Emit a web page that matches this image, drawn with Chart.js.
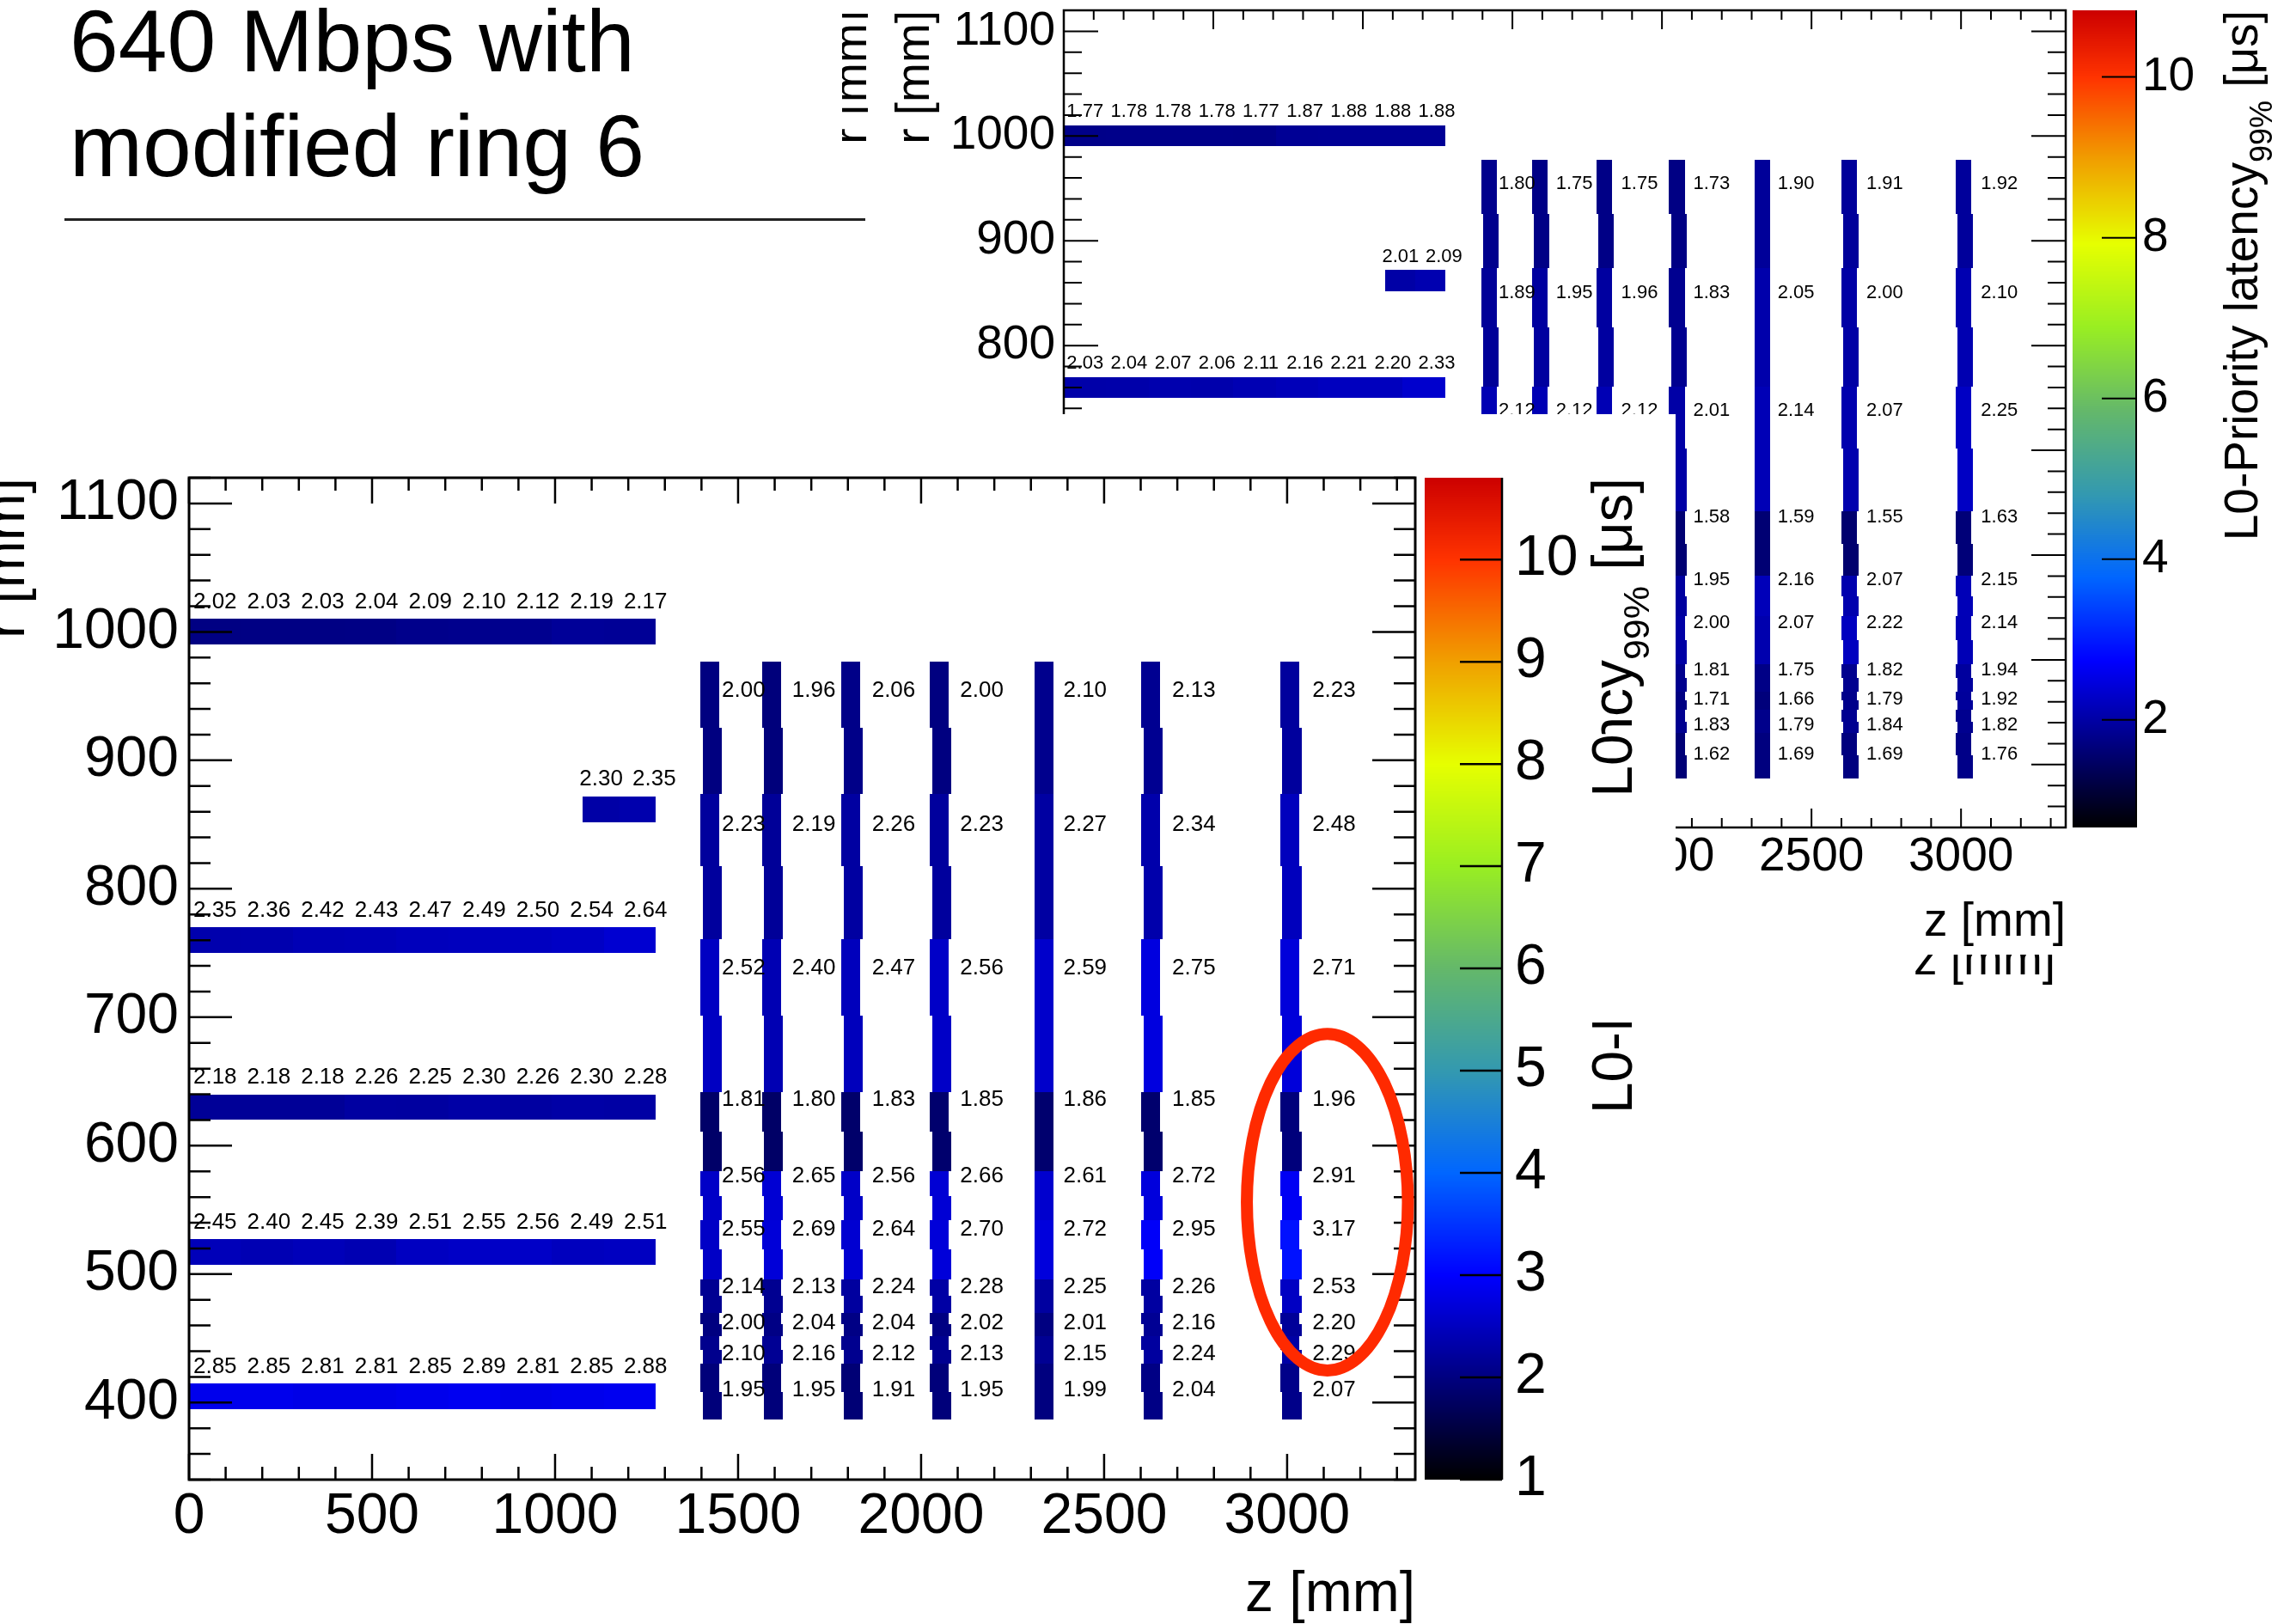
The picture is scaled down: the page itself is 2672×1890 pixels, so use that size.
<!DOCTYPE html>
<html>
<head>
<meta charset="utf-8">
<script src="https://cdn.jsdelivr.net/npm/chart.js@4.4.1/dist/chart.umd.min.js"></script>
<style>
    html, body { margin: 0; padding: 0; background: #fff; }
    body { width: 2672px; height: 1890px; position: relative; overflow: hidden; font-family: "Liberation Sans", Arial, sans-serif; }
    #title { position: absolute; left: 81px; top: -13px; font-size: 102px; line-height: 122px; color: #000; white-space: nowrap; }
    #rule { position: absolute; left: 75px; top: 254px; width: 932px; height: 3px; background: #222; }
    #upper { position: absolute; left: 940px; top: 0; z-index: 1; }
    #main { position: absolute; left: 0; top: 482px; z-index: 2; background: #fff; }
</style>
</head>
<body>
<div id="title">640 Mbps with<br>modified ring 6</div>
<div id="rule"></div>
<canvas id="upper" width="1732" height="1150"></canvas>
<canvas id="main" width="1950" height="1408"></canvas>
<script>
// 几何布局 (mm)，两张图共用
const barrelZEdges = [0, 141.7, 283.3, 425, 566.7, 708.3, 850, 991.7, 1133.3, 1275];
const barrelLabelZ = [71, 218, 365, 512, 659, 806, 953, 1100, 1247];
const barrelR = [1000, 760, 630, 517, 405];
const shortZEdges = [1075, 1175, 1275];
const shortLabelZ = [1126, 1271];
const shortR = 862;
const diskZ = [1426, 1594, 1811, 2053, 2336, 2630, 3010];
const diskLabelZ = [1515, 1707, 1925, 2166, 2448, 2745, 3128];
const diskStagger = [1, 1, 1, 1, 0, 1, 1];
const ringTopR = [977, 874, 761, 642, 580, 542, 496, 470, 452, 430];
const ringBottomR = 387;
const ringLabelR = [954, 850, 738, 636, 576, 535, 490, 462, 438, 410];

// 坐标轴
const zRange = [0, 3350];
const rRange = [340, 1120];
const zTicks = [0, 500, 1000, 1500, 2000, 2500, 3000];
const rTicks = [400, 500, 600, 700, 800, 900, 1000, 1100];
const zMinorStep = 100, rMinorStep = 20;

// 主图 (下方) 数值
const mainBarrel = [
    [2.02, 2.03, 2.03, 2.04, 2.09, 2.10, 2.12, 2.19, 2.17],
    [2.35, 2.36, 2.42, 2.43, 2.47, 2.49, 2.50, 2.54, 2.64],
    [2.18, 2.18, 2.18, 2.26, 2.25, 2.30, 2.26, 2.30, 2.28],
    [2.45, 2.40, 2.45, 2.39, 2.51, 2.55, 2.56, 2.49, 2.51],
    [2.85, 2.85, 2.81, 2.81, 2.85, 2.89, 2.81, 2.85, 2.88]
];
const mainShort = [2.30, 2.35];
const mainRings = [
    [2.00, 1.96, 2.06, 2.00, 2.10, 2.13, 2.23],
    [2.23, 2.19, 2.26, 2.23, 2.27, 2.34, 2.48],
    [2.52, 2.40, 2.47, 2.56, 2.59, 2.75, 2.71],
    [1.81, 1.80, 1.83, 1.85, 1.86, 1.85, 1.96],
    [2.56, 2.65, 2.56, 2.66, 2.61, 2.72, 2.91],
    [2.55, 2.69, 2.64, 2.70, 2.72, 2.95, 3.17],
    [2.14, 2.13, 2.24, 2.28, 2.25, 2.26, 2.53],
    [2.00, 2.04, 2.04, 2.02, 2.01, 2.16, 2.20],
    [2.10, 2.16, 2.12, 2.13, 2.15, 2.24, 2.29],
    [1.95, 1.95, 1.91, 1.95, 1.99, 2.04, 2.07]
];
const mainZRange = [1, 10.8];
const mainZTicks = [1, 2, 3, 4, 5, 6, 7, 8, 9, 10];

// 上方旧图 (被遮住的格子为 null)
const upperBarrel = [
    [1.77, 1.78, 1.78, 1.78, 1.77, 1.87, 1.88, 1.88, 1.88],
    [2.03, 2.04, 2.07, 2.06, 2.11, 2.16, 2.21, 2.20, 2.33],
    null, null, null
];
const upperShort = [2.01, 2.09];
const upperRings = [
    [1.80, 1.75, 1.75, 1.73, 1.90, 1.91, 1.92],
    [1.89, 1.95, 1.96, 1.83, 2.05, 2.00, 2.10],
    [2.12, 2.12, 2.12, 2.01, 2.14, 2.07, 2.25],
    [null, null, null, 1.58, 1.59, 1.55, 1.63],
    [null, null, null, 1.95, 2.16, 2.07, 2.15],
    [null, null, null, 2.00, 2.07, 2.22, 2.14],
    [null, null, null, 1.81, 1.75, 1.82, 1.94],
    [null, null, null, 1.71, 1.66, 1.79, 1.92],
    [null, null, null, 1.83, 1.79, 1.84, 1.82],
    [null, null, null, 1.62, 1.69, 1.69, 1.76]
];
const upperZRange = [0.66, 10.83];
const upperZTicks = [2, 4, 6, 8, 10];

// 色板 (按区间比例)
const paletteStops = [0, 0.102, 0.204, 0.306, 0.408, 0.51, 0.612, 0.714, 0.816, 0.918, 1];
const paletteColors = ['#000000', '#000080', '#0000ff', '#0066ff', '#3399b0', '#64b86a', '#99ee22', '#e6ff00', '#f0a000', '#ff3300', '#cc0000'];

const FONT = '"Liberation Sans", Arial, Helvetica, sans-serif';
const halfStave = 10, diskHalfW = 26, staggerOff = 3, staveLabelGap = 13;

function hexRgb(h) {
    return [parseInt(h.slice(1, 3), 16), parseInt(h.slice(3, 5), 16), parseInt(h.slice(5, 7), 16)];
}

function paletteColor(v, zr) {
    const f = Math.min(1, Math.max(0, (v - zr[0]) / (zr[1] - zr[0])));
    for (let i = 1; i < paletteStops.length; i++) {
        if (f <= paletteStops[i]) {
            const t = (f - paletteStops[i - 1]) / (paletteStops[i] - paletteStops[i - 1]);
            const a = hexRgb(paletteColors[i - 1]), b = hexRgb(paletteColors[i]);
            return 'rgb(' + a.map((c, k) => Math.round(c + (b[k] - c) * t)).join(',') + ')';
        }
    }
    return paletteColors[paletteColors.length - 1];
}

// 旋转文字 (自下而上)，末端对齐 yEnd
function rotText(ctx, parts, xb, yEnd, size, clipFn) {
    ctx.save();
    ctx.translate(xb, yEnd);
    ctx.rotate(-Math.PI / 2);
    const widths = parts.map(p => { ctx.font = Math.round(size * (p.s || 1)) + 'px ' + FONT; return ctx.measureText(p.t).width; });
    const W = widths.reduce((a, b) => a + b, 0);
    if (clipFn) clipFn(ctx, W, size);
    let x = -W;
    ctx.textAlign = 'left';
    ctx.textBaseline = 'alphabetic';
    ctx.fillStyle = '#000';
    parts.forEach((p, i) => {
        ctx.font = Math.round(size * (p.s || 1)) + 'px ' + FONT;
        ctx.fillText(p.t, x, (p.dy || 0) * size);
        x += widths[i];
    });
    ctx.restore();
}

function mapPlugin(cfg) {
    return {
        id: 'map_' + cfg.name,
        afterDraw(chart) {
            const ctx = chart.ctx, xs = chart.scales.x, ys = chart.scales.y, cb = chart.scales.cb;
            const a = chart.chartArea;
            const X = v => xs.getPixelForValue(v), Y = v => ys.getPixelForValue(v);
            const cell = (z0, z1, r0, r1, v) => {
                const xa = Math.round(X(z0)), xb = Math.round(X(z1));
                const ya = Math.round(Y(r1)), yb = Math.round(Y(r0));
                ctx.fillStyle = paletteColor(v, cfg.zr);
                ctx.fillRect(xa, ya, xb - xa, yb - ya);
            };
            const label = (z, r, v) => {
                ctx.fillStyle = '#000';
                ctx.font = cfg.valSize + 'px ' + FONT;
                ctx.textAlign = 'center';
                ctx.textBaseline = 'middle';
                ctx.fillText(v.toFixed(2), X(z), Y(r));
            };
            ctx.save();

            // 桶部
            cfg.barrel.forEach((row, i) => {
                if (!row) return;
                row.forEach((v, j) => { if (v != null) cell(barrelZEdges[j], barrelZEdges[j + 1], barrelR[i] - halfStave, barrelR[i] + halfStave, v); });
            });
            cfg.short.forEach((v, j) => cell(shortZEdges[j], shortZEdges[j + 1], shortR - halfStave, shortR + halfStave, v));

            // 端盖环
            cfg.rings.forEach((row, k) => {
                const top = ringTopR[k];
                const bot = k + 1 < ringTopR.length ? ringTopR[k + 1] : ringBottomR;
                const mid = (top + bot) / 2;
                row.forEach((v, d) => {
                    if (v == null) return;
                    const off = diskStagger[d] * staggerOff;
                    cell(diskZ[d] - diskHalfW - off, diskZ[d] + diskHalfW - off, mid, top, v);
                    cell(diskZ[d] - diskHalfW + off, diskZ[d] + diskHalfW + off, bot, mid, v);
                });
            });

            // 数值标签
            cfg.barrel.forEach((row, i) => {
                if (!row) return;
                row.forEach((v, j) => { if (v != null) label(barrelLabelZ[j], barrelR[i] + halfStave + staveLabelGap, v); });
            });
            cfg.short.forEach((v, j) => label(shortLabelZ[j], shortR + halfStave + staveLabelGap, v));
            cfg.rings.forEach((row, k) => row.forEach((v, d) => { if (v != null) label(diskLabelZ[d], ringLabelR[k], v); }));

            // 边框和刻度
            ctx.strokeStyle = '#000';
            ctx.lineWidth = cfg.frameW;
            ctx.strokeRect(a.left, a.top, a.right - a.left, a.bottom - a.top);
            ctx.lineWidth = cfg.tickW;
            ctx.beginPath();
            for (let z = zRange[0]; z <= zRange[1] + 1e-6; z += zMinorStep) {
                const L = zTicks.includes(z) ? cfg.xMajor : cfg.xMinor;
                const px = X(z);
                ctx.moveTo(px, a.bottom); ctx.lineTo(px, a.bottom - L);
                ctx.moveTo(px, a.top); ctx.lineTo(px, a.top + L);
            }
            for (let r = rRange[0]; r <= rRange[1] + 1e-6; r += rMinorStep) {
                const L = rTicks.includes(r) ? cfg.yMajor : cfg.yMinor;
                const py = Y(r);
                ctx.moveTo(a.left, py); ctx.lineTo(a.left + L, py);
                ctx.moveTo(a.right, py); ctx.lineTo(a.right - L, py);
            }
            ctx.stroke();

            // 色标
            const x0 = a.right + cfg.cbGap, x1 = x0 + cfg.cbW;
            for (let py = Math.floor(cb.top); py < cb.bottom; py++) {
                ctx.fillStyle = paletteColor(cb.getValueForPixel(py + 0.5), cfg.zr);
                ctx.fillRect(x0, py, x1 - x0, 1);
            }
            ctx.beginPath();
            cb.ticks.forEach(t => { const py = cb.getPixelForValue(t.value); ctx.moveTo(x1, py); ctx.lineTo(x1 - cfg.cbTick, py); });
            ctx.moveTo(x1, cb.top); ctx.lineTo(x1, cb.bottom);
            ctx.stroke();

            // 轴标题
            ctx.fillStyle = '#000';
            ctx.font = cfg.titleSize + 'px ' + FONT;
            ctx.textAlign = 'right';
            ctx.textBaseline = 'alphabetic';
            ctx.fillText('z [mm]', a.right, a.bottom + cfg.xTitleOff);
            rotText(ctx, [{ t: 'r [mm]' }], a.left - cfg.yTitleOff, a.top, cfg.titleSize);
            if (cfg.extras) cfg.extras(ctx, a, cfg);

            // 标注椭圆
            if (cfg.mark) {
                const m = cfg.mark;
                ctx.strokeStyle = '#ff2a00';
                ctx.lineWidth = 14;
                ctx.beginPath();
                ctx.ellipse(X(m.z), Y(m.r), X(m.z + m.dz) - X(m.z), Y(m.r) - Y(m.r + m.dr), 0, 0, Math.PI * 2);
                ctx.stroke();
            }
            ctx.restore();
        }
    };
}

const cbTitleParts = [{ t: 'L0-Priority latency' }, { t: '99%', s: 0.65, dy: 0.3 }, { t: ' [\u03bcs]' }];

// 固定刻度，并去掉自动留白
function fixTicks(values) {
    return s => { s.ticks = values.map(v => ({ value: v })); };
}
function fitTo(prop, size) {
    return s => {
        s[prop] = size;
        s.paddingTop = 0; s.paddingBottom = 0; s.paddingLeft = 0; s.paddingRight = 0;
    };
}

function makeMap(canvasId, cfg) {
    const tickFont = { family: FONT, size: cfg.tickSize };
    const common = { grid: { display: false, drawTicks: false }, border: { display: false }, bounds: 'data' };
    const tickOpts = pad => ({ autoSkip: false, maxRotation: 0, color: '#000', padding: pad, font: tickFont, callback: v => String(v) });
    return new Chart(document.getElementById(canvasId), {
        type: 'scatter',
        data: { datasets: [] },
        options: {
            responsive: false,
            animation: false,
            devicePixelRatio: 1,
            layout: { padding: { top: cfg.padTop, left: 0, right: 0, bottom: 0 } },
            plugins: { legend: { display: false }, tooltip: { enabled: false } },
            scales: {
                x: Object.assign({ type: 'linear', position: 'bottom', min: zRange[0], max: zRange[1],
                    ticks: tickOpts(cfg.xPad), afterBuildTicks: fixTicks(zTicks), afterFit: fitTo('height', cfg.xHeight) }, common),
                y: Object.assign({ type: 'linear', position: 'left', min: rRange[0], max: rRange[1],
                    ticks: tickOpts(cfg.yPad), afterBuildTicks: fixTicks(rTicks), afterFit: fitTo('width', cfg.yWidth) }, common),
                cb: Object.assign({ type: 'linear', axis: 'y', position: 'right', min: cfg.zr[0], max: cfg.zr[1],
                    ticks: tickOpts(cfg.cbPad), afterBuildTicks: fixTicks(cfg.zTicks), afterFit: fitTo('width', cfg.cbWidth) }, common)
            }
        },
        plugins: [mapPlugin(cfg)]
    });
}

// 上方 (部分被遮挡) 的图
makeMap('upper', {
    name: 'upper', zr: upperZRange, zTicks: upperZTicks, barrel: upperBarrel, short: upperShort, rings: upperRings,
    padTop: 12, yWidth: 298, cbWidth: 268, xHeight: 187,
    tickSize: 55, valSize: 22, titleSize: 55,
    xPad: 2, yPad: 10, cbPad: 89,
    cbGap: 8, cbW: 74, cbTick: 40,
    frameW: 2.5, tickW: 2, xMajor: 22, xMinor: 11, yMajor: 40, yMinor: 21,
    xTitleOff: 126, yTitleOff: 157,
    extras(ctx, a, cfg) {
        rotText(ctx, cbTitleParts, a.right + 223, a.top, cfg.titleSize);
        // 叠在下面的旧副本残影
        ctx.save();
        ctx.beginPath(); ctx.rect(40, 0, 30, 300); ctx.clip();
        rotText(ctx, [{ t: 'r [mm]' }], 68, a.top, cfg.titleSize);
        ctx.restore();
        ctx.save();
        ctx.beginPath(); ctx.rect(a.right - 300, 1111, 320, 60); ctx.clip();
        ctx.fillStyle = '#000';
        ctx.font = cfg.titleSize + 'px ' + FONT;
        ctx.textAlign = 'right';
        ctx.textBaseline = 'alphabetic';
        ctx.fillText('z [mm]', a.right - 12, a.bottom + cfg.xTitleOff + 45);
        ctx.restore();
    }
});

// 主图
makeMap('main', {
    name: 'main', zr: mainZRange, zTicks: mainZTicks, barrel: mainBarrel, short: mainShort, rings: mainRings,
    padTop: 74, yWidth: 220, cbWidth: 303, xHeight: 168,
    tickSize: 66, valSize: 26, titleSize: 66,
    xPad: 4, yPad: 12, cbPad: 116,
    cbGap: 11, cbW: 90, cbTick: 49,
    frameW: 3, tickW: 2.5, xMajor: 30, xMinor: 15, yMajor: 50, yMinor: 25,
    xTitleOff: 153, yTitleOff: 192,
    mark: { z: 3110, r: 556, dz: 220, dr: 131 },
    extras(ctx, a, cfg) {
        // 色标标题：中段被上层图片遮住
        const size = cfg.titleSize;
        const xb = a.right + 252;
        let cutB = 0;
        rotText(ctx, cbTitleParts, xb, a.top, size, (c, W, s) => {
            c.font = s + 'px ' + FONT;
            const cutA = c.measureText('L0-').width + 0.25 * c.measureText('P').width;
            cutB = c.measureText('L0-Priority late').width + 0.45 * c.measureText('n').width;
            c.beginPath();
            c.rect(-W - 5, -s * 1.2, cutA + 5, s * 2);
            c.rect(-W + cutB, -s * 1.2, W - cutB + 10, s * 2);
            c.clip();
            cutB -= W;
        });
        ctx.save();
        ctx.translate(xb, a.top);
        ctx.rotate(-Math.PI / 2);
        ctx.font = size + 'px ' + FONT;
        ctx.textAlign = 'right';
        ctx.textBaseline = 'alphabetic';
        ctx.fillStyle = '#000';
        ctx.fillText('L0', cutB, 0);
        ctx.restore();
    }
});
</script>
</body>
</html>
